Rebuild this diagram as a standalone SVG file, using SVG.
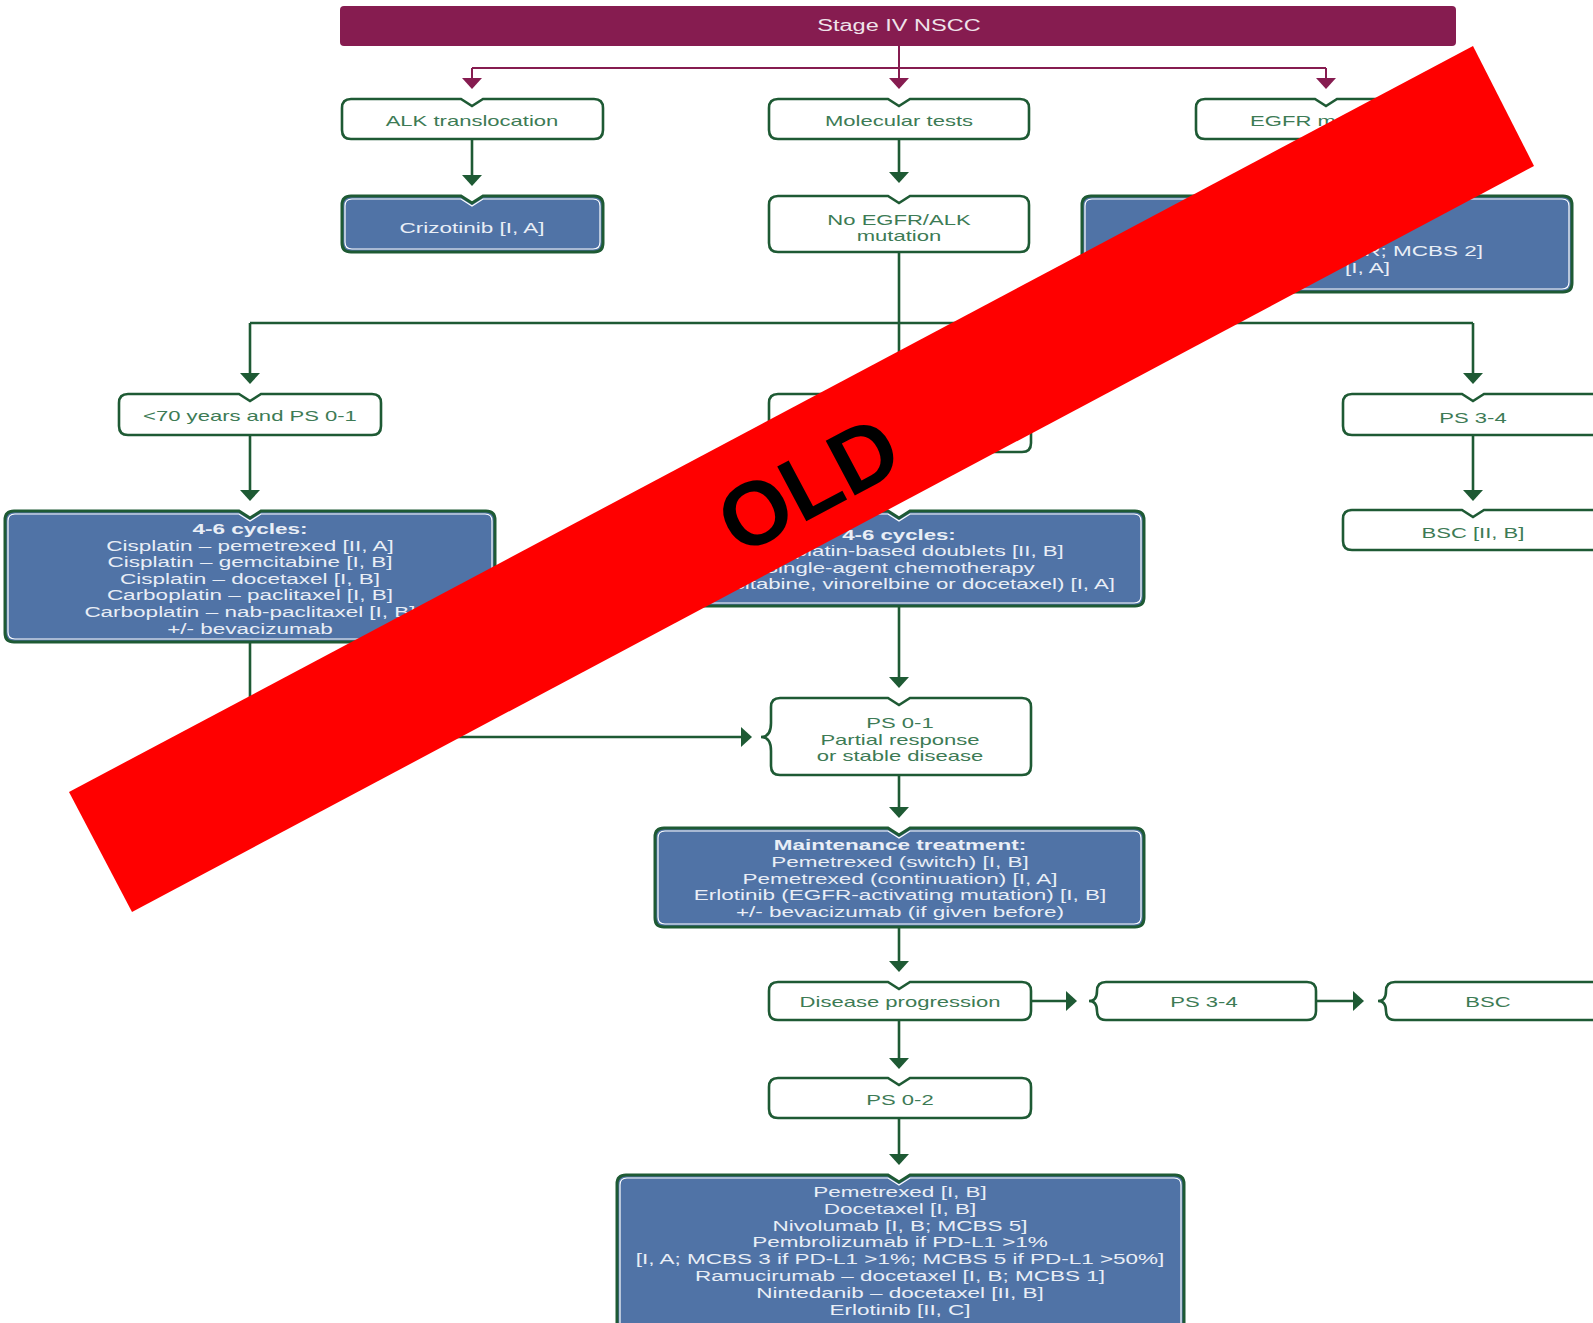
<svg xmlns="http://www.w3.org/2000/svg" width="1593" height="1323" viewBox="0 0 1593 1323">
<defs>
<style>
.w{fill:#fff;stroke:#1e5a34;stroke-width:2.6}
.b{fill:#5073a6;stroke:#1e5a34;stroke-width:3}
.bi{fill:none;stroke:#fff;stroke-width:1.2}
.t{font-family:"Liberation Sans",Arial,sans-serif;font-size:15px;text-anchor:middle;fill:#3d7b55}
.tb{font-family:"Liberation Sans",Arial,sans-serif;font-size:15px;text-anchor:middle;fill:#e9eef6}
.bd{font-weight:bold}
.cg{fill:none;stroke:#1e5a34;stroke-width:2.6}
.cm{fill:none;stroke:#861c50;stroke-width:2}
</style>
<marker id="ag" markerUnits="userSpaceOnUse" viewBox="0 0 11 20" markerWidth="11" markerHeight="20" refX="5" refY="10" orient="auto"><path d="M0,0 L11,10 L0,20 Z" fill="#1e5a34"/></marker>
<marker id="am" markerUnits="userSpaceOnUse" viewBox="0 0 11 20" markerWidth="11" markerHeight="20" refX="5" refY="10" orient="auto"><path d="M0,0 L11,10 L0,20 Z" fill="#861c50"/></marker>
</defs>
<rect width="1593" height="1323" fill="#fff"/>

<g id="connectors">
<path class="cm" d="M899,46 V83" marker-end="url(#am)"/>
<path class="cm" d="M472,68 H1326"/>
<path class="cm" d="M472,68 V83" marker-end="url(#am)"/>
<path class="cm" d="M1326,68 V83" marker-end="url(#am)"/>
<path class="cg" d="M472,139 V180" marker-end="url(#ag)"/>
<path class="cg" d="M899,139 V177" marker-end="url(#ag)"/>
<path class="cg" d="M1326,139 V180" marker-end="url(#ag)"/>
<path class="cg" d="M899,252 V378" marker-end="url(#ag)"/>
<path class="cg" d="M250,323 H1473"/>
<path class="cg" d="M250,323 V378" marker-end="url(#ag)"/>
<path class="cg" d="M1473,323 V378" marker-end="url(#ag)"/>
<path class="cg" d="M250,435 V495" marker-end="url(#ag)"/>
<path class="cg" d="M1473,435 V495" marker-end="url(#ag)"/>
<path class="cg" d="M899,452 V495" marker-end="url(#ag)"/>
<path class="cg" d="M899,606 V682" marker-end="url(#ag)"/>
<path class="cg" d="M250,642 V737 H746" marker-end="url(#ag)"/>
<path class="cg" d="M899,775 V812" marker-end="url(#ag)"/>
<path class="cg" d="M899,927 V966" marker-end="url(#ag)"/>
<path class="cg" d="M1031,1001 H1071" marker-end="url(#ag)"/>
<path class="cg" d="M1316,1001 H1358" marker-end="url(#ag)"/>
<path class="cg" d="M899,1020 V1063" marker-end="url(#ag)"/>
<path class="cg" d="M899,1118 V1159" marker-end="url(#ag)"/>
</g>

<g id="n-stage">
<rect x="340" y="6" width="1116" height="40" rx="4" fill="#861c50"/>
<text class="tb" style="font-size:16px;fill:#efe3ea" transform="matrix(1.47 0 0 1 899 0)"><tspan x="0" y="31">Stage IV NSCC</tspan></text>
</g>

<g id="n-alk">
<path class="w" d="M351,99 H461 L472,106 L483,99 H594 Q603,99 603,108 V130 Q603,139 594,139 H351 Q342,139 342,130 V108 Q342,99 351,99 Z"/>
<text class="t" transform="matrix(1.47 0 0 1 472 0)"><tspan x="0" y="126">ALK translocation</tspan></text>
</g>

<g id="n-molecular">
<path class="w" d="M778,99 H888 L899,106 L910,99 H1020 Q1029,99 1029,108 V130 Q1029,139 1020,139 H778 Q769,139 769,130 V108 Q769,99 778,99 Z"/>
<text class="t" transform="matrix(1.47 0 0 1 899 0)"><tspan x="0" y="126">Molecular tests</tspan></text>
</g>

<g id="n-egfr">
<path class="w" d="M1205,99 H1315 L1326,106 L1337,99 H1447 Q1456,99 1456,108 V130 Q1456,139 1447,139 H1205 Q1196,139 1196,130 V108 Q1196,99 1205,99 Z"/>
<text class="t" transform="matrix(1.47 0 0 1 1326 0)"><tspan x="0" y="126">EGFR mutation</tspan></text>
</g>

<g id="n-crizotinib">
<path class="b" d="M351,196 H461 L472,203 L483,196 H594 Q603,196 603,205 V243 Q603,252 594,252 H351 Q342,252 342,243 V205 Q342,196 351,196 Z"/>
<path class="bi" d="M352,199 H461 L472,206 L483,199 H593 Q600,199 600,206 V242 Q600,249 593,249 H352 Q345,249 345,242 V206 Q345,199 352,199 Z"/>
<text class="tb" transform="matrix(1.5 0 0 1 472 0)"><tspan x="0" y="233">Crizotinib [I, A]</tspan></text>
</g>

<g id="n-noegfr">
<path class="w" d="M778,196 H888 L899,203 L910,196 H1020 Q1029,196 1029,205 V243 Q1029,252 1020,252 H778 Q769,252 769,243 V205 Q769,196 778,196 Z"/>
<text class="t" transform="matrix(1.47 0 0 1 899 0)"><tspan x="0" y="225">No EGFR/ALK</tspan><tspan x="0" y="241">mutation</tspan></text>
</g>

<g id="n-egfr-tx">
<path class="b" d="M1091,196 H1316 L1327,203 L1338,196 H1563 Q1572,196 1572,205 V283 Q1572,292 1563,292 H1091 Q1082,292 1082,283 V205 Q1082,196 1091,196 Z"/>
<path class="bi" d="M1092,199 H1316 L1327,206 L1338,199 H1562 Q1569,199 1569,206 V282 Q1569,289 1562,289 H1092 Q1085,289 1085,282 V206 Q1085,199 1092,199 Z"/>
<text class="tb" style="text-anchor:end" transform="matrix(1.5 0 0 1 1483 0)"><tspan x="0" y="256">R; MCBS 2]</tspan></text>
<text class="tb" style="text-anchor:end" transform="matrix(1.5 0 0 1 1390 0)"><tspan x="0" y="273">[I, A]</tspan></text>
</g>

<g id="n-under70">
<path class="w" d="M128,394 H239 L250,401 L261,394 H372 Q381,394 381,403 V426 Q381,435 372,435 H128 Q119,435 119,426 V403 Q119,394 128,394 Z"/>
<text class="t" transform="matrix(1.47 0 0 1 250 0)"><tspan x="0" y="421">&lt;70 years and PS 0-1</tspan></text>
</g>

<g id="n-over70">
<path class="w" d="M778,394 H888 L899,401 L910,394 H1022 Q1031,394 1031,403 V443 Q1031,452 1022,452 H778 Q769,452 769,443 V403 Q769,394 778,394 Z"/>
</g>

<g id="n-ps34-top">
<path class="w" d="M1352,394 H1462 L1473,401 L1484,394 H1596 Q1605,394 1605,403 V426 Q1605,435 1596,435 H1352 Q1343,435 1343,426 V403 Q1343,394 1352,394 Z"/>
<text class="t" transform="matrix(1.47 0 0 1 1473 0)"><tspan x="0" y="423">PS 3-4</tspan></text>
</g>

<g id="n-cycles-left">
<path class="b" d="M14,511 H239 L250,518 L261,511 H486 Q495,511 495,520 V633 Q495,642 486,642 H14 Q5,642 5,633 V520 Q5,511 14,511 Z"/>
<path class="bi" d="M15,514 H239 L250,521 L261,514 H485 Q492,514 492,521 V632 Q492,639 485,639 H15 Q8,639 8,632 V521 Q8,514 15,514 Z"/>
<text class="tb" transform="matrix(1.5 0 0 1 250 0)"><tspan x="0" y="534" class="bd">4-6 cycles:</tspan><tspan x="0" y="550.6">Cisplatin – pemetrexed [II, A]</tspan><tspan x="0" y="567.2">Cisplatin – gemcitabine [I, B]</tspan><tspan x="0" y="583.8">Cisplatin – docetaxel [I, B]</tspan><tspan x="0" y="600.4">Carboplatin – paclitaxel [I, B]</tspan><tspan x="0" y="617">Carboplatin – nab-paclitaxel [I, B]</tspan><tspan x="0" y="633.6">+/- bevacizumab</tspan></text>
</g>

<g id="n-cycles-mid">
<path class="b" d="M664,511 H888 L899,518 L910,511 H1135 Q1144,511 1144,520 V597 Q1144,606 1135,606 H664 Q655,606 655,597 V520 Q655,511 664,511 Z"/>
<path class="bi" d="M665,514 H888 L899,521 L910,514 H1134 Q1141,514 1141,521 V596 Q1141,603 1134,603 H665 Q658,603 658,596 V521 Q658,514 665,514 Z"/>
<text class="tb" transform="matrix(1.48 0 0 1 899 0)"><tspan x="0" y="540" class="bd">4-6 cycles:</tspan><tspan x="0" y="556.5">Carboplatin-based doublets [II, B]</tspan><tspan x="0" y="573">Single-agent chemotherapy</tspan><tspan x="0" y="589.5">(gemcitabine, vinorelbine or docetaxel) [I, A]</tspan></text>
</g>

<g id="n-bsc-top">
<path class="w" d="M1352,510 H1462 L1473,517 L1484,510 H1596 Q1605,510 1605,519 V541 Q1605,550 1596,550 H1352 Q1343,550 1343,541 V519 Q1343,510 1352,510 Z"/>
<text class="t" transform="matrix(1.47 0 0 1 1473 0)"><tspan x="0" y="538">BSC [II, B]</tspan></text>
</g>

<g id="n-ps01">
<path class="w" d="M780,698 H888 L899,705 L910,698 H1022 Q1031,698 1031,707 V766 Q1031,775 1022,775 H780 Q771,775 771,766 V751 Q771,737 761,737 Q771,737 771,723 V707 Q771,698 780,698 Z"/>
<text class="t" transform="matrix(1.47 0 0 1 900 0)"><tspan x="0" y="728">PS 0-1</tspan><tspan x="0" y="745">Partial response</tspan><tspan x="0" y="761.5">or stable disease</tspan></text>
</g>

<g id="n-maintenance">
<path class="b" d="M664,828 H888 L899,835 L910,828 H1135 Q1144,828 1144,837 V918 Q1144,927 1135,927 H664 Q655,927 655,918 V837 Q655,828 664,828 Z"/>
<path class="bi" d="M665,831 H888 L899,838 L910,831 H1134 Q1141,831 1141,838 V917 Q1141,924 1134,924 H665 Q658,924 658,917 V838 Q658,831 665,831 Z"/>
<text class="tb" transform="matrix(1.5 0 0 1 900 0)"><tspan x="0" y="850" class="bd">Maintenance treatment:</tspan><tspan x="0" y="866.8">Pemetrexed (switch) [I, B]</tspan><tspan x="0" y="883.6">Pemetrexed (continuation) [I, A]</tspan><tspan x="0" y="900.4">Erlotinib (EGFR-activating mutation) [I, B]</tspan><tspan x="0" y="917.2">+/- bevacizumab (if given before)</tspan></text>
</g>

<g id="n-progression">
<path class="w" d="M778,982 H888 L899,989 L910,982 H1022 Q1031,982 1031,991 V1011 Q1031,1020 1022,1020 H778 Q769,1020 769,1011 V991 Q769,982 778,982 Z"/>
<text class="t" transform="matrix(1.47 0 0 1 900 0)"><tspan x="0" y="1007">Disease progression</tspan></text>
</g>

<g id="n-ps34-bottom">
<path class="w" d="M1106,982 H1307 Q1316,982 1316,991 V1011 Q1316,1020 1307,1020 H1106 Q1097,1020 1097,1011 Q1097,1001 1089,1001 Q1097,1001 1097,991 Q1097,982 1106,982 Z"/>
<text class="t" transform="matrix(1.47 0 0 1 1204 0)"><tspan x="0" y="1007">PS 3-4</tspan></text>
</g>

<g id="n-bsc-bottom">
<path class="w" d="M1395,982 H1596 Q1605,982 1605,991 V1011 Q1605,1020 1596,1020 H1395 Q1386,1020 1386,1011 Q1386,1001 1378,1001 Q1386,1001 1386,991 Q1386,982 1395,982 Z"/>
<text class="t" transform="matrix(1.47 0 0 1 1488 0)"><tspan x="0" y="1007">BSC</tspan></text>
</g>

<g id="n-ps02">
<path class="w" d="M778,1078 H888 L899,1085 L910,1078 H1022 Q1031,1078 1031,1087 V1109 Q1031,1118 1022,1118 H778 Q769,1118 769,1109 V1087 Q769,1078 778,1078 Z"/>
<text class="t" transform="matrix(1.47 0 0 1 900 0)"><tspan x="0" y="1105">PS 0-2</tspan></text>
</g>

<g id="n-second-line">
<path class="b" d="M626,1175 H888 L899,1182 L910,1175 H1175 Q1184,1175 1184,1184 V1340 H617 V1184 Q617,1175 626,1175 Z"/>
<path class="bi" d="M627,1178 H888 L899,1185 L910,1178 H1174 Q1181,1178 1181,1185 V1340 H620 V1185 Q620,1178 627,1178 Z"/>
<text class="tb" transform="matrix(1.5 0 0 1 900 0)"><tspan x="0" y="1197">Pemetrexed [I, B]</tspan><tspan x="0" y="1213.8">Docetaxel [I, B]</tspan><tspan x="0" y="1230.6">Nivolumab [I, B; MCBS 5]</tspan><tspan x="0" y="1247.4">Pembrolizumab if PD-L1 &gt;1%</tspan><tspan x="0" y="1264.2">[I, A; MCBS 3 if PD-L1 &gt;1%; MCBS 5 if PD-L1 &gt;50%]</tspan><tspan x="0" y="1281">Ramucirumab – docetaxel [I, B; MCBS 1]</tspan><tspan x="0" y="1297.8">Nintedanib – docetaxel [II, B]</tspan><tspan x="0" y="1314.6">Erlotinib [II, C]</tspan></text>
</g>

<g id="banner-old">
<polygon points="69,792 132,912 1534,166 1473,46" fill="#ff0000"/>
<text transform="translate(808,484) rotate(-28)" x="0" y="32" style="font-family:'Liberation Sans',Arial,sans-serif;font-size:90px;font-weight:bold;text-anchor:middle;fill:#000">OLD</text>
</g>
</svg>
